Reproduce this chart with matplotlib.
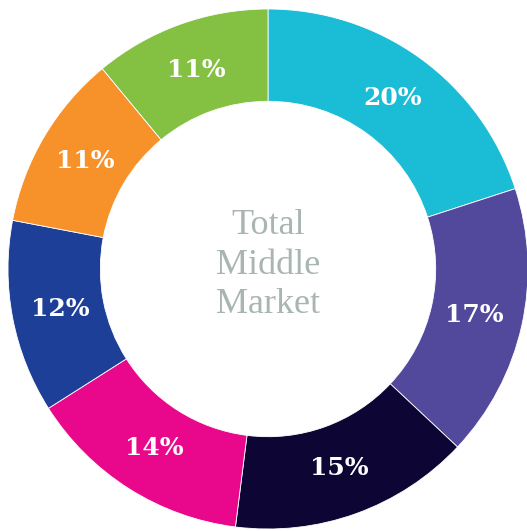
import matplotlib
matplotlib.use("Agg")
import matplotlib.pyplot as plt

values = [20, 17, 15, 14, 12, 11, 11]
labels = ["20%", "17%", "15%", "14%", "12%", "11%", "11%"]
colors = ["#1bbcd6", "#52489c", "#0d0533", "#e9088b", "#1e3f98", "#f7922b", "#84c042"]
center_text = "Total\nMiddle\nMarket"

W, H = 527, 531
fig = plt.figure(figsize=(W / 100, H / 100), dpi=100)
ax = fig.add_axes([0, 0, 1, 1])
ax.axis("off")

R = 260.0
cx, cy = 268.0, 269.0

wedges, texts = ax.pie(
    values,
    colors=colors,
    startangle=90,
    counterclock=False,
    radius=1.0,
    labels=labels,
    labeldistance=0.815,
    wedgeprops=dict(width=0.355, edgecolor="white", linewidth=0.6),
    textprops=dict(color="white", fontsize=18, fontweight="bold",
                   family="DejaVu Serif", ha="center", va="center"),
)
ax.set_xlim(-cx / R, (W - cx) / R)
ax.set_ylim(-(H - cy) / R, cy / R)
ax.set_aspect("equal")

ax.text(0, 4 / R, center_text, ha="center", va="center", fontsize=26,
        color="#a8b5b0", family="Liberation Serif", linespacing=1.25)

fig.savefig("out.png", dpi=100)
